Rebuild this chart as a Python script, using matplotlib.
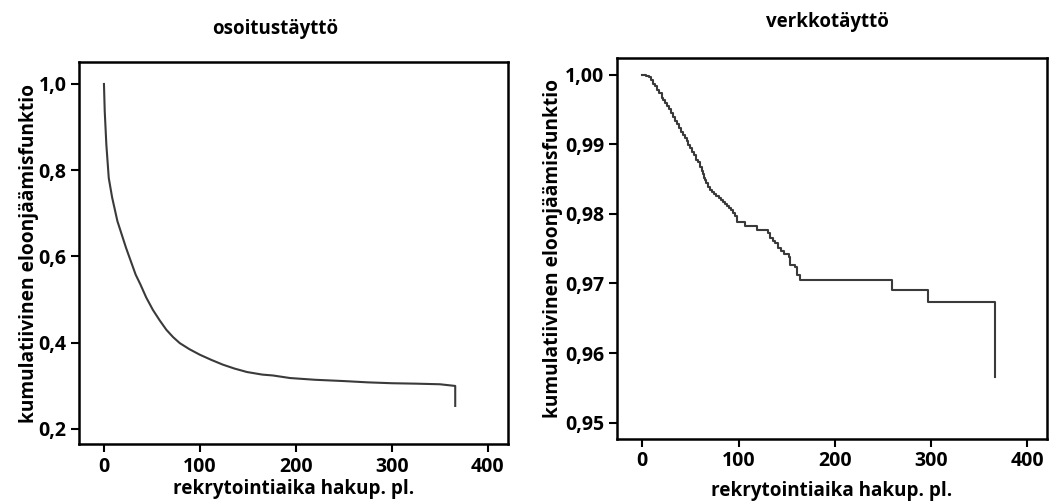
import matplotlib
matplotlib.use("Agg")
import matplotlib.pyplot as plt
from matplotlib.ticker import FuncFormatter

plt.rcParams['font.family'] = ['Open Sans', 'DejaVu Sans']
plt.rcParams['font.weight'] = 'bold'

# --- data: osoitustäyttö (mail fill) ---
left_days = [0, 0.8, 2.5, 5, 8.5, 14, 23, 33, 38, 44, 51, 58, 65, 72, 79, 89, 100,
             112, 124, 136, 149, 165, 176, 194, 220, 250, 275, 300, 325, 350, 366, 366]
left_surv = [1.0, 0.937, 0.859, 0.782, 0.737, 0.682, 0.620, 0.558, 0.535, 0.505,
             0.476, 0.452, 0.430, 0.413, 0.399, 0.385, 0.372, 0.360, 0.349, 0.340,
             0.332, 0.326, 0.324, 0.318, 0.314, 0.311, 0.308, 0.306, 0.305, 0.3036,
             0.2997, 0.2533]

# --- data: verkkotäyttö (web fill) ---
right_days = [0, 4, 7, 9, 11, 13, 15, 17, 20, 22, 24, 26, 28, 30, 32, 34, 36, 38, 40,
              42, 44, 46, 48, 50, 52, 54, 56, 58, 60, 62, 63, 64, 65, 66, 68, 70, 72,
              74, 77, 80, 82, 84, 86, 88, 90, 92, 94, 96, 98, 107, 119, 131, 133, 136,
              138, 141, 144, 147, 152, 154, 159, 161, 164, 259, 297, 366]
right_surv = [1.0, 0.9998, 0.9996, 0.9992, 0.9987, 0.9983, 0.9978, 0.9973, 0.9967,
              0.9963, 0.9959, 0.9955, 0.9950, 0.9945, 0.9939, 0.9933, 0.9929, 0.9923,
              0.9918, 0.9913, 0.9909, 0.9904, 0.9899, 0.9894, 0.9889, 0.9884, 0.9878,
              0.9874, 0.9868, 0.9862, 0.9857, 0.9852, 0.9848, 0.9844, 0.9838, 0.9834,
              0.9831, 0.9829, 0.9826, 0.9823, 0.9820, 0.9817, 0.9814, 0.9812, 0.9808,
              0.9805, 0.9801, 0.9797, 0.9789, 0.9782, 0.9777, 0.9772, 0.9765, 0.9761,
              0.9758, 0.9751, 0.9747, 0.9743, 0.9738, 0.9727, 0.9724, 0.9712, 0.9705,
              0.9690, 0.9673, 0.9566]

x_ticks = [0, 100, 200, 300, 400]
left_yticks = [0.2, 0.4, 0.6, 0.8, 1.0]
right_yticks = [0.95, 0.96, 0.97, 0.98, 0.99, 1.00]

titles = ["osoitustäyttö", "verkkotäyttö"]
xlabel = "rekrytointiaika hakup. pl."
ylabel = "kumulatiivinen eloonjäämisfunktio"

line_col = '#3a3a3a'

fig = plt.figure(figsize=(10.52, 5.04), dpi=100)
axL = fig.add_axes([0.0751, 0.119, 0.4078, 0.758])
axR = fig.add_axes([0.5865, 0.129, 0.4087, 0.756])

axL.plot(left_days, left_surv, color=line_col, lw=1.5)
axR.plot(right_days, right_surv, color=line_col, lw=1.5, drawstyle='steps-post')

axL.set_xlim(-26, 421)
axL.set_ylim(0.165, 1.051)
axR.set_xlim(-26.3, 420.5)
axR.set_ylim(0.94766, 1.0024)

def fmt(dec):
    return FuncFormatter(lambda v, p: (f"{v:.{dec}f}").replace('.', ','))

axL.set_yticks(left_yticks)
axL.yaxis.set_major_formatter(fmt(1))
axR.set_yticks(right_yticks)
axR.yaxis.set_major_formatter(fmt(2))

for ax, xpad, ypad in [(axL, 2, 0), (axR, 7, 1.5)]:
    ax.set_xticks(x_ticks)
    ax.tick_params(direction='out', length=6, width=1.5, labelsize=14, pad=3)
    for s in ax.spines.values():
        s.set_linewidth(1.8)
    ax.set_xlabel(xlabel, fontsize=13.6, fontweight='bold', labelpad=xpad)
    ax.set_ylabel(ylabel, fontsize=13.8, fontweight='bold', labelpad=ypad)
    for lab in ax.get_xticklabels() + ax.get_yticklabels():
        lab.set_fontweight('bold')

fig.text(0.2614, 0.943, titles[0], ha='center', va='center', fontsize=13.5, fontweight='bold')
fig.text(0.787, 0.957, titles[1], ha='center', va='center', fontsize=13.5, fontweight='bold')

fig.savefig('out.png', dpi=100)
